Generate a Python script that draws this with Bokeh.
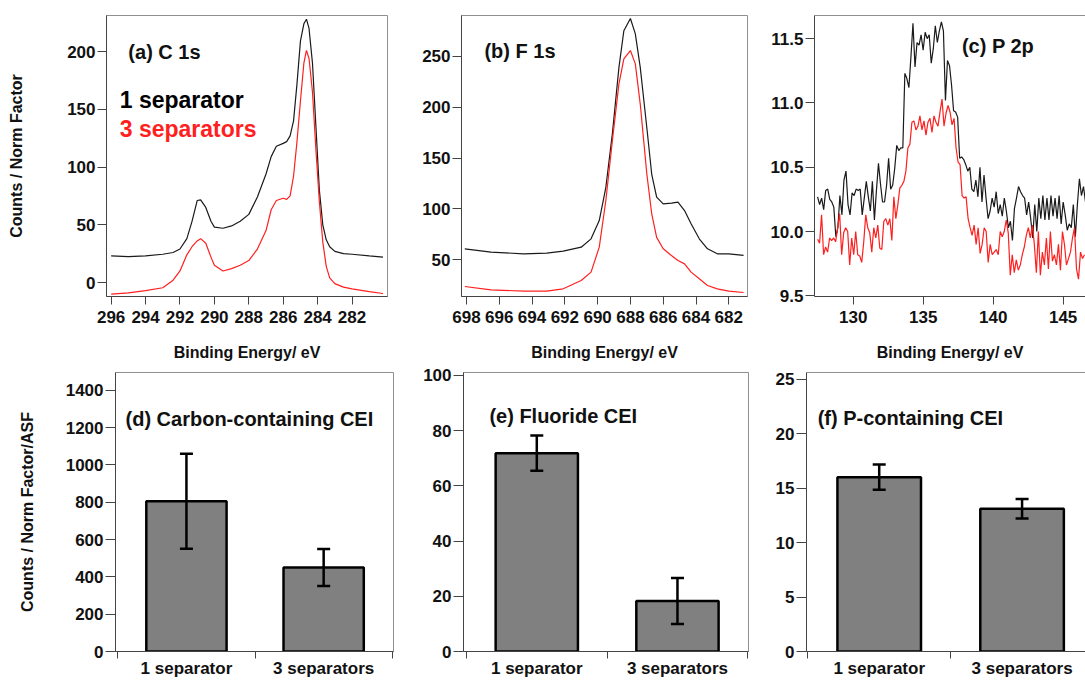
import numpy as np
from bokeh.plotting import figure
from bokeh.models import (Range1d, FixedTicker, Label, Whisker, TeeHead,
                          ColumnDataSource, LinearAxis, NumeralTickFormatter)
from bokeh.layouts import column, row
from bokeh.embed import file_html
from bokeh.resources import INLINE

FONT = "Liberation Sans"

# ---------------- data ----------------
# (a) C 1s
a_energy = [296.0, 295.0, 294.0, 293.0, 292.4, 292.0, 291.6, 291.3, 291.0, 290.8,
            290.5, 290.2, 290.0, 289.5, 289.0, 288.5, 288.0, 287.5, 287.0, 286.7,
            286.4, 286.0, 285.8, 285.6, 285.4, 285.2, 285.0, 284.8, 284.65, 284.5,
            284.3, 284.1, 283.9, 283.7, 283.5, 283.3, 283.0, 282.5, 282.0, 281.0, 280.2]
a_one_sep = [23.1, 22.5, 23.0, 24.5, 26.0, 29.0, 38.0, 53.0, 71.0, 71.5,
             65.0, 53.0, 48.0, 47.0, 49.0, 53.0, 59.0, 74.0, 94.0, 109.0,
             118.0, 120.5, 122.0, 127.0, 140.0, 172.0, 209.0, 224.0, 228.0, 220.0,
             190.0, 135.0, 80.0, 50.0, 37.0, 31.0, 27.0, 25.0, 24.5, 23.0, 22.0]
a_three_sep = [-10.0, -9.0, -7.0, -4.5, 2.0, 10.0, 24.0, 31.0, 36.0, 38.0,
               34.0, 22.0, 15.0, 10.0, 12.0, 15.0, 19.0, 29.0, 45.0, 63.0,
               71.0, 73.0, 72.0, 75.0, 92.0, 122.0, 157.0, 190.0, 201.0, 194.0,
               165.0, 115.0, 70.0, 35.0, 14.0, 4.0, -1.0, -4.0, -5.5, -7.8, -9.5]
a_xticks = [296, 294, 292, 290, 288, 286, 284, 282]
a_yticks = [0, 50, 100, 150, 200]

# (b) F 1s
b_energy = [698.1, 696.5, 694.5, 693.1, 692.1, 691.0, 690.4, 689.9, 689.5, 689.1,
            688.7, 688.4, 688.0, 687.7, 687.4, 687.0, 686.7, 686.4, 686.0, 685.5,
            685.1, 684.7, 684.3, 683.8, 683.3, 682.7, 682.0, 681.1]
b_one_sep = [60.8, 57.5, 55.9, 56.5, 58.5, 62.4, 70.6, 88.6, 121.0, 174.0,
             239.0, 275.0, 287.0, 272.0, 239.0, 180.0, 134.0, 111.5, 105.0, 105.6,
             106.6, 98.4, 85.4, 70.6, 60.8, 55.9, 55.9, 54.3]
b_three_sep = [23.8, 20.5, 19.2, 19.2, 21.5, 29.7, 37.9, 62.4, 108.0, 167.0,
               222.8, 247.4, 255.6, 242.5, 203.0, 134.5, 95.0, 72.0, 60.8, 54.3,
               49.3, 46.0, 37.9, 31.3, 24.8, 21.5, 19.2, 17.9]
b_xticks = [698, 696, 694, 692, 690, 688, 686, 684, 682]
b_yticks = [50, 100, 150, 200, 250]

# (c) P 2p  (evenly sampled scans)
c_start, c_stop_one, c_stop_three = 127.45, 146.6, 146.53
c_one_sep = [10.27, 10.21, 10.26, 10.17, 10.32, 10.33, 10.25, 10.23, 10.19, 9.96,
             10.03, 10.28, 10.13, 10.40, 10.47, 10.21, 10.13, 10.30, 10.28, 10.33,
             10.32, 10.33, 10.13, 10.26, 10.39, 10.27, 10.16, 10.39, 10.09, 10.32,
             10.53, 10.37, 10.23, 10.23, 10.36, 10.57, 10.33, 10.36, 10.49, 10.67,
             10.63, 10.65, 10.65, 11.23, 11.19, 11.12, 11.36, 11.62, 11.28, 11.47,
             11.45, 11.53, 11.41, 11.55, 11.50, 11.53, 11.31, 11.42, 11.60, 11.47,
             11.56, 11.63, 11.56, 11.02, 11.33, 11.29, 11.14, 10.94, 10.93, 10.89,
             10.57, 10.58, 10.56, 10.52, 10.47, 10.50, 10.33, 10.31, 10.40, 10.27,
             10.50, 10.23, 10.44, 10.26, 10.10, 10.16, 10.26, 10.19, 10.31, 10.14,
             10.21, 10.12, 10.26, 10.16, 10.03, 10.08, 9.93, 10.18, 10.26, 10.35,
             10.31, 10.28, 10.26, 10.13, 10.23, 10.10, 9.95, 10.21, 10.00, 10.26,
             10.10, 10.28, 10.09, 10.26, 10.09, 10.28, 10.12, 10.26, 10.10, 10.28,
             10.06, 10.23, 10.13, 10.01, 10.06, 10.03, 10.21, 9.96, 10.21, 10.41,
             10.28, 10.35, 10.23]
c_three_sep = [9.94, 9.91, 10.13, 9.82, 9.88, 9.84, 9.95, 9.93, 9.95, 9.92,
               10.03, 10.14, 9.82, 9.99, 10.03, 10.00, 9.74, 9.95, 9.82, 10.00,
               9.82, 9.81, 9.76, 9.92, 10.13, 10.03, 9.99, 9.84, 10.03, 9.95,
               10.05, 9.87, 9.86, 10.08, 10.10, 10.05, 10.10, 9.93, 10.27, 10.10,
               10.21, 10.34, 10.36, 10.39, 10.47, 10.65, 10.68, 10.85, 10.86, 10.79,
               10.82, 10.90, 10.79, 10.86, 10.75, 10.85, 10.88, 10.77, 10.90, 10.85,
               10.82, 10.93, 11.03, 10.82, 10.92, 10.98, 10.93, 10.83, 10.88, 10.65,
               10.54, 10.52, 10.28, 10.26, 10.27, 10.10, 10.03, 9.97, 10.05, 9.90,
               10.03, 9.83, 9.90, 10.03, 10.00, 9.76, 9.90, 9.82, 9.84, 9.86,
               9.82, 10.00, 9.96, 10.00, 10.09, 9.99, 9.66, 9.82, 9.68, 9.78,
               9.70, 9.74, 9.82, 9.88, 9.97, 10.03, 9.95, 10.05, 9.90, 9.68,
               10.00, 9.66, 9.84, 9.74, 9.95, 9.71, 10.00, 9.77, 9.82, 9.74,
               9.90, 9.70, 10.00, 9.90, 9.74, 9.79, 9.84, 9.95, 10.03, 9.71,
               9.63, 9.84, 9.79, 9.82]
c_xticks = [130, 135, 140, 145]
c_yticks = [9.5, 10.0, 10.5, 11.0, 11.5]

# bar panels
categories = ["1 separator", "3 separators"]
d_values = [805, 450]
d_errors = [255, 99]
d_yticks = [0, 200, 400, 600, 800, 1000, 1200, 1400]
e_values = [71.8, 18.3]
e_errors = [6.4, 8.3]
e_yticks = [0, 20, 40, 60, 80, 100]
f_values = [16.0, 13.1]
f_errors = [1.15, 0.9]
f_yticks = [0, 5, 10, 15, 20, 25]

series_names = ["1 separator", "3 separators"]
BLACK = "#1a1a1a"
RED = "#ff1f1f"
AX = "#444444"
OUT = "#8f8f8f"


def make_fig(w, h, xr, yr, mb, outline=True):
    p = figure(width=w, height=h, x_range=Range1d(*xr), y_range=Range1d(*yr),
               output_backend="svg", toolbar_location=None,
               min_border_left=mb[0], min_border_right=mb[1],
               min_border_top=mb[2], min_border_bottom=mb[3])
    p.xgrid.visible = False
    p.ygrid.visible = False
    p.background_fill_color = "white"
    p.border_fill_color = "white"
    p.outline_line_color = OUT if outline else None
    p.outline_line_width = 1
    return p


def add_top_line(p):
    top = LinearAxis(ticker=FixedTicker(ticks=[]), major_tick_out=0, major_tick_in=0,
                     minor_tick_out=0, minor_tick_in=0,
                     major_label_text_font_size="0px", axis_line_color=OUT)
    p.add_layout(top, "above")


def style_axis(ax, ticks, tick_out=9, standoff=2):
    ax.ticker = FixedTicker(ticks=ticks)
    ax.major_label_text_font = FONT
    ax.major_label_text_font_size = "17px"
    ax.major_label_text_font_style = "bold"
    ax.major_label_text_color = "#111111"
    ax.axis_line_color = AX
    ax.axis_line_width = 1
    ax.major_tick_line_color = AX
    ax.major_tick_in = 0
    ax.major_tick_out = tick_out
    ax.minor_tick_in = 0
    ax.minor_tick_out = 0
    ax.major_label_standoff = standoff
    ax.axis_label_text_font = FONT
    ax.axis_label_text_font_size = "16px"
    ax.axis_label_text_font_style = "bold"
    ax.axis_label_text_color = "#111111"


def add_label(p, x, y, text, size="20px", color="#111111"):
    p.add_layout(Label(x=x, y=y, text=text, text_font=FONT, text_font_size=size,
                       text_font_style="bold", text_color=color,
                       text_baseline="middle", text_align="left"))


TOP_MB = (15, 68)   # shared frame top / bottom border of the spectra row


def spectrum(w, lr, xr, yr, xe1, y1, xe2, y2, xticks, yticks, title, tpos, outline=True,
             yfmt=None):
    p = make_fig(w, 364, xr, yr, (lr[0], lr[1], TOP_MB[0], TOP_MB[1]), outline)
    p.line(xe1, y1, line_color=BLACK, line_width=1.2)
    p.line(xe2, y2, line_color=RED, line_width=1.2)
    style_axis(p.xaxis[0], xticks, tick_out=8, standoff=6)
    style_axis(p.yaxis[0], yticks)
    if yfmt:
        p.yaxis[0].formatter = NumeralTickFormatter(format=yfmt)
    p.xaxis[0].axis_label = "Binding Energy/ eV"
    p.xaxis[0].axis_label_standoff = 18
    add_label(p, tpos[0], tpos[1], title)
    if not outline:
        add_top_line(p)
    return p


pa = spectrum(415, (106, 28), (296.27, 279.94), (-12.1, 231.2),
              a_energy, a_one_sep, a_energy, a_three_sep, a_xticks, a_yticks,
              "(a) C 1s", (295.0, 200))
pa.yaxis[0].axis_label = "Counts / Norm Factor"
pa.yaxis[0].axis_label_standoff = 39
add_label(pa, 295.5, 157.7, series_names[0], size="23px", color="#000000")
add_label(pa, 295.5, 133.0, series_names[1], size="23px", color=RED)

pb = spectrum(350, (46, 18), (698.3, 680.86), (13.95, 290),
              b_energy, b_one_sep, b_energy, b_three_sep, b_xticks, b_yticks,
              "(b) F 1s", (696.9, 255.6))

c_e1 = np.linspace(c_start, c_stop_one, len(c_one_sep))
c_e3 = np.linspace(c_start, c_stop_three, len(c_three_sep))
pc = spectrum(320, (49, 0), (127.23, 146.6), (9.495, 11.68),
              c_e1, c_one_sep, c_e3, c_three_sep, c_xticks, c_yticks,
              "(c) P 2p", (137.77, 11.44), outline=False, yfmt="0.0")

BOT_MB = (8, 27)   # shared frame top / bottom border of the bar row


def bars(w, lr, xr, yr, values, errors, yticks, title, tpos, outline=True):
    p = make_fig(w, 316, xr, yr, (lr[0], lr[1], BOT_MB[0], BOT_MB[1]), outline)
    xpos = [i + 0.5 for i in range(len(categories))]
    p.vbar(x=xpos, top=values, bottom=0, width=0.585, fill_color="#808080",
           line_color="black", line_width=2.5)
    src = ColumnDataSource(dict(x=xpos,
                                upper=[v + e for v, e in zip(values, errors)],
                                lower=[v - e for v, e in zip(values, errors)]))
    w_ = Whisker(base="x", upper="upper", lower="lower", source=src,
                 line_color="black", line_width=2.5, level="overlay",
                 upper_head=TeeHead(size=13, line_width=2.5, line_color="black"),
                 lower_head=TeeHead(size=13, line_width=2.5, line_color="black"))
    p.add_layout(w_)
    style_axis(p.yaxis[0], yticks, tick_out=10, standoff=2)
    ax = p.xaxis[0]
    style_axis(ax, xpos, tick_out=0, standoff=0)
    ax.ticker = FixedTicker(ticks=xpos, minor_ticks=list(range(len(categories) + 1)))
    ax.major_label_overrides = {x: c for x, c in zip(xpos, categories)}
    ax.minor_tick_out = 7
    ax.minor_tick_line_color = AX
    add_label(p, tpos[0], tpos[1], title)
    if not outline:
        add_top_line(p)
    return p


pd_ = bars(420, (115, 27), (-0.017, 2.009), (0, 1495), d_values, d_errors,
           d_yticks, "(d) Carbon-containing  CEI", (0.056, 1246))
pd_.yaxis[0].axis_label = "Counts / Norm Factor/ASF"
pd_.yaxis[0].axis_label_standoff = 27
pe = bars(352, (43, 24), (-0.021, 2.005), (0, 101.0), e_values, e_errors,
          e_yticks, "(e) Fluoride CEI", (0.163, 85.3))
pf = bars(313, (31, 0), (-0.009, 1.944), (0, 25.6), f_values, f_errors,
          f_yticks, "(f) P-containing CEI", (0.069, 21.4), outline=False)

layout = column(row(pa, pb, pc, spacing=0), row(pd_, pe, pf, spacing=0), spacing=0)

with open("out.html", "w") as fh:
    fh.write(file_html(layout, INLINE))
